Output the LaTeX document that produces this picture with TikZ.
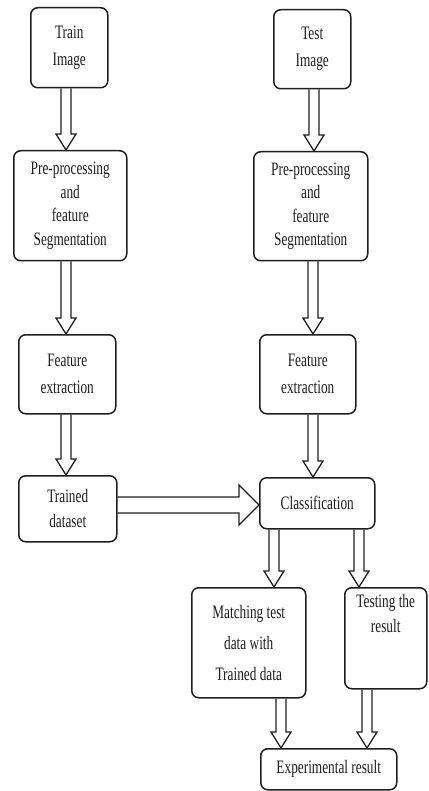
\documentclass[tikz,border=0pt]{standalone}
\usepackage{fontspec}
\setmainfont[FakeStretch=0.7]{Liberation Serif}
\usetikzlibrary{calc}
\definecolor{ink}{HTML}{1E1E1E}
\tikzset{
  box/.style={draw=ink, rounded corners=7pt, line width=1.5pt, inner sep=0pt,
    anchor=north west, align=center, text=ink},
  blk/.style={draw=ink, line width=1.3pt, line join=miter, fill=none}
}
% box: name, x1, y1, x2, y2, baselineskip, text
\newcommand\bx[7]{%
  \node[box, minimum width={#4pt-#2pt}, minimum height={#5pt-#3pt},
        font={\fontsize{19}{#6}\selectfont}] (#1) at (#2,#3) {#7};}
% vertical block arrow: from node, to node, x centre
\newcommand\vblock[3]{%
  \draw[blk] (#3-5,0 |- #1.south)
    -- ($(#3-5,0 |- #2.north)+(0,-16)$)
    -- ($(#3-10,0 |- #2.north)+(0,-16)$)
    -- (#3,0 |- #2.north)
    -- ($(#3+10,0 |- #2.north)+(0,-16)$)
    -- ($(#3+5,0 |- #2.north)+(0,-16)$)
    -- (#3+5,0 |- #1.south);}
\begin{document}
\begin{tikzpicture}[x=1pt,y=-1pt]
\useasboundingbox (0,0) rectangle (428,791);
\bx{train}{30}{7}{107}{87}{27}{Train\\Image}
\bx{test}{273}{9}{350}{88}{27}{Test\\Image}
\bx{pre1}{13}{150}{126}{260}{23.5}{Pre-processing\\and\\feature\\Segmentation}
\bx{pre2}{253}{151}{367}{260}{23.5}{Pre-processing\\and\\feature\\Segmentation}
\bx{fe1}{18}{334}{115}{413}{27}{Feature\\extraction}
\bx{fe2}{259}{334}{355}{413}{27}{Feature\\extraction}
\bx{trained}{18}{475}{116}{541}{25}{Trained\\dataset}
\bx{class}{259}{477}{374}{528}{25}{Classification}
\bx{match}{191}{587}{305}{697}{31}{Matching test\\data with\\Trained data}
\bx{testing}{344}{587}{426}{688}{25}{Testing the\\result\\\mbox{}\\\mbox{}}
\bx{exp}{260}{748}{396}{789}{25}{Experimental result}

\vblock{train}{pre1}{66}
\vblock{test}{pre2}{314}
\vblock{pre1}{fe1}{66}
\vblock{pre2}{fe2}{313}
\vblock{fe1}{trained}{66}
\vblock{fe2}{class}{313}
\vblock{class}{match}{274}
\vblock{class}{testing}{359}
\vblock{match}{exp}{281}
\vblock{testing}{exp}{367}

\draw[blk] (trained.east |- 0,497)
  -- ($(class.west |- 0,497)+(-20,0)$)
  -- ($(class.west |- 0,485)+(-20,0)$)
  -- (class.west |- 0,505)
  -- ($(class.west |- 0,525)+(-20,0)$)
  -- ($(class.west |- 0,513)+(-20,0)$)
  -- (trained.east |- 0,513);
\end{tikzpicture}
\end{document}
